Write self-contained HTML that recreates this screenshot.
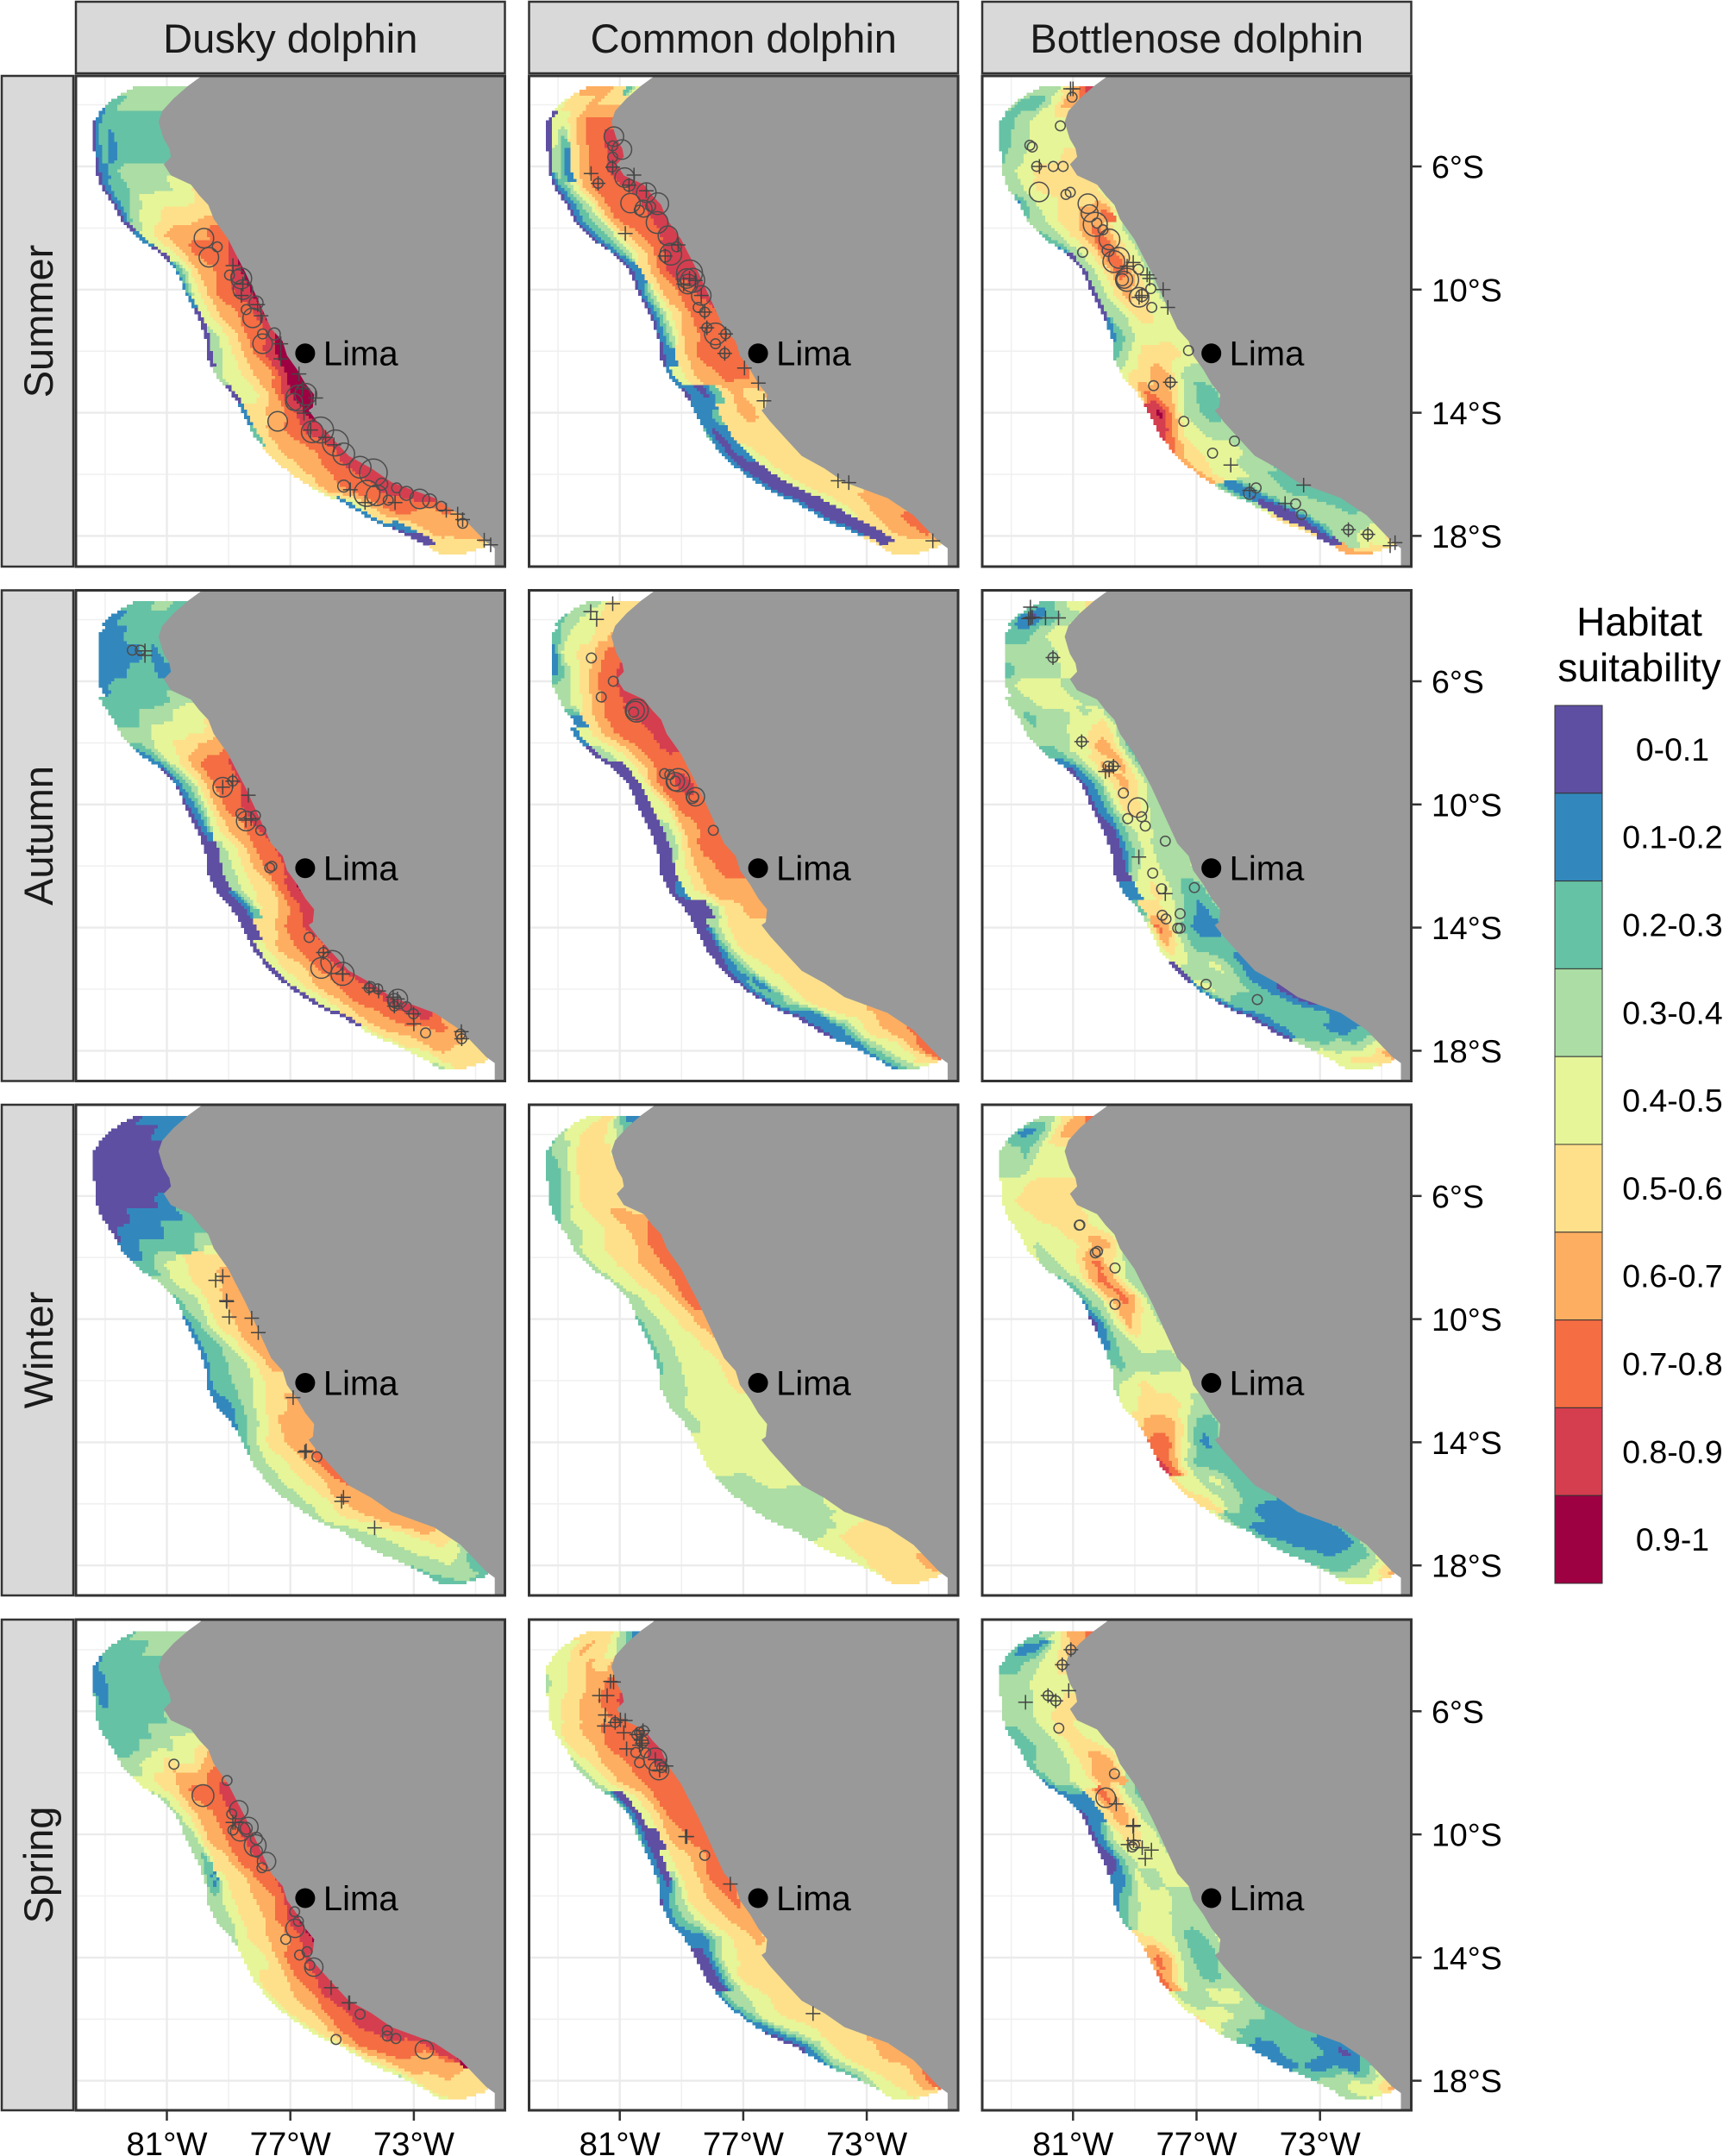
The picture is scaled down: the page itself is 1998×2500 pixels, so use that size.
<!DOCTYPE html>
<html lang="en">
<head>
<meta charset="utf-8">
<title>Dolphin habitat suitability by season</title>
<style>
html,body{margin:0;padding:0;background:#fff;}
svg{display:block;font-family:"Liberation Sans",Arial,sans-serif;}
</style>
</head>
<body>
<svg id="chart" xmlns="http://www.w3.org/2000/svg" width="1998" height="2500" viewBox="0 0 1998 2500"></svg>
<script>
const species = ['Dusky dolphin','Common dolphin','Bottlenose dolphin'];
const seasons = ['Summer','Autumn','Winter','Spring'];
const latTicks = [6,10,14,18];
const latMinor = [4,8,12,16];
const lonTicks = [81,77,73];
const lonMinor = [83,79,75,71];
const legendLabels = ['0-0.1','0.1-0.2','0.2-0.3','0.3-0.4','0.4-0.5','0.5-0.6','0.6-0.7','0.7-0.8','0.8-0.9','0.9-1'];
const limaLon = -76.52;
const limaLat = 12.07;

/* coastline of Peru, degrees */
const coastLon = [-79.90,-80.31,-80.78,-81.15,-81.27,-81.15,-81.10,-80.92,-80.87,-81.10,-80.87,-80.22,-79.94,-79.66,-79.48,-79.01,-78.78,-78.46,-78.13,-77.90,-77.62,-77.25,-77.11,-76.78,-76.51,-76.23,-76.27,-76.41,-76.13,-75.58,-75.11,-74.37,-73.72,-72.88,-72.33,-71.49,-70.66,-70.38,-70.38];
const coastLat = [3.08,3.38,3.79,4.20,4.55,4.96,5.11,5.42,5.69,5.93,6.29,6.59,6.95,7.25,7.71,8.37,8.83,9.44,10.15,10.66,11.27,11.68,12.14,12.60,13.06,13.41,13.82,13.92,14.28,14.89,15.40,15.81,16.26,16.57,16.77,17.33,18.20,18.40,18.96];

/* cross-shore transects, north to south: coast end and offshore end */
const stationCoastLon = [-80.5,-80.7,-81.2,-81.1,-80.9,-81.0,-80.4,-79.9,-79.55,-79.2,-78.85,-78.5,-78.15,-77.8,-77.4,-77.0,-76.6,-76.15,-76.15,-75.8,-75.2,-74.5,-73.8,-73.1,-72.5,-71.95,-71.44,-71.07,-70.8,-70.61];
const stationCoastLat = [3.45,3.9,4.5,5.1,5.7,6.1,6.55,6.9,7.45,8.05,8.6,9.3,10.0,10.6,11.3,12.0,12.7,13.35,13.95,14.5,15.05,15.55,16.0,16.3,16.55,17.02,17.38,17.74,18.05,18.25];
const stationWestLon = [-82.1,-82.9,-83.35,-83.38,-83.33,-83.3,-83.05,-82.75,-82.4,-81.9,-81.2,-80.7,-80.35,-79.95,-79.75,-79.7,-79.4,-78.9,-78.5,-78.15,-77.6,-76.9,-76.0,-75.2,-74.4,-73.5,-72.8,-72.2,-71.49,-70.75];
const stationWestLat = [3.45,3.9,4.5,5.1,5.7,6.2,6.8,7.2,7.85,8.35,8.85,9.4,10.2,10.95,11.6,12.2,12.85,13.4,14.05,14.8,15.45,16.05,16.6,16.95,17.45,17.85,18.2,18.55,18.6,18.36];

/* suitability class per transect, coast (left digit) to offshore (right digit); x = no data */
const duskySummer = ['333333333','333333322','222222220','222222120','222222120','333333210','443333220','544444320','555554430','776666541','877776540','987766531','988776541','987766540','987765430','998765430','998665443','999865440','998766551','888776652','887766655','888776655','888777664','888877641','888777651','776666510','666666500','666655555','665555555','555555555'];
const commonSummer = ['425566666','555565554','777765440','887765240','887765130','887765130','887776420','887776420','887776320','887765320','888765420','888876510','887766420','877765420','777766420','777776510','677766541','655652010','556655211','555555102','555554101','555554001','555554001','655554001','666554001','666655001','776665005','776655555','665555555','555555555'];
const bottleSummer = ['876553333','666432223','444443322','444443322','554444332','555554433','555555433','455554431','476655433','346765432','345775430','345775430','345565430','344554330','444444321','445555432','333466554','322346675','222335798','333344578','334444556','233344456','222333113','122233103','222333005','223333105','333333300','444443366','544455566','555555555'];
const duskyAutumn = ['223332222','222222211','22222111x','21211111x','11222111x','22222221x','332222222','444333222','544444333','666554421','877765420','877765320','887765310','887665410','877654300','877654300','987554300','887655200','887765500','877766540','887765540','887766540','887776540','888776650','888776654','677666554','666666544','555555543','555555555','555555555'];
const commonAutumn = ['555554333','555544332','65544432x','77655441x','87765431x','87765433x','88776543x','88877651x','887776541','887765430','777765400','788776400','777764400','777664300','777765300','777665400','666665410','666553000','555554300','555554200','555544210','555544120','555554320','655554110','665543110','666554311','766544321','776544321','776555433','776555555'];
const bottleAutumn = ['544433222','433221012','44433222x','44333333x','44333332x','33444443x','334444333','343433323','355443333','246644322','246564310','345654210','334554210','333443200','333343200','433344300','322345411','321234552','111123674','222223454','112343330','111233341','001222220','001222210','112222210','111122233','222233344','444445544','665555444','665555555'];
const duskyWinter = ['111111100','111000000','000000000','000000000','000000000','110000000','211111000','222211110','332222211','555544322','665554433','666554332','666554321','666543221','665433221','555433221','665543211','666654321','666655432','776554433','776554433','666654433','666655443','666654433','666544333','555444333','344443332','223333322','222333322','222222222'];
const commonWinter = ['112355444','234555443','455554332','555554322','555554322','555554322','566554432','766554433','776555443','776655443','776655443','776554433','665544332','655444332','554444332','554444333','444444433','444444433','444444444','444444444','444443333','333333333','443333333','544433333','555555444','555555544','555555554','665555555','665555555','555555555'];
const bottleWinter = ['766554333','666532112','444432333','444443333','555555444','555555544','455555444','445554444','466544434','345764433','334676432','346765331','344564310','444443321','433333323','444445443','334555544','322356665','321245777','222223578','122343445','122233455','211112223','111111112','211111122','211111222','322222223','433333344','555544444','666555555'];
const duskySpring = ['333333332','333322222','222222221','222222211','222222212','322222222','333322222','444333222','654454433','776665544','887776543','887766543','887766533','887765523','877655413','876655433','987655433','987665543','887765444','887765554','888766554','888776554','888877654','888877764','887777654','886666653','966665554','555555554','555555555','555555555'];
const commonSpring = ['123455555','234556544','655655444','776655443','877665544','776665544','777766554','877776554','887766543','777766543','777765402','777765402','777665002','776655401','777655302','676655320','666554321','565543111','555544200','555554200','555544331','555554421','555544310','555554310','565555431','666555432','665555443','766555444','776655554','775555555'];
const bottleSpring = ['766654332','665431112','554433222','444443333','554443333','555443333','445543322','445543322','466543332','366644331','234675111','335665110','344554310','344443200','444334211','333444321','333344432','432234455','322234676','332233467','334443334','223334445','222222233','222222111','111222211','101111122','221133333','433344433','555544443','666555555'];

/* sightings: [lon, lat, group size] */
const duskySummerSightings = [[-79.80,8.33,8],[-79.64,8.95,8],[-79.37,8.61,2],[-78.97,9.53,2],[-78.59,9.64,9],[-78.70,9.58,4],[-78.54,10.0,8],[-78.43,10.65,2],[-78.11,10.43,4],[-78.22,10.92,8],[-77.9,11.44,2],[-77.9,11.76,8],[-77.52,11.44,3],[-76.72,13.52,14],[-76.5,13.40,10],[-76.88,13.65,6],[-77.41,14.28,8],[-76.29,14.62,10],[-76.02,14.56,14],[-75.54,14.98,14],[-75.27,15.34,10],[-74.74,15.77,10],[-74.31,15.95,16],[-74.52,16.62,14],[-74.2,16.68,9],[-75.27,16.38,3],[-73.83,16.84,2],[-73.24,16.62,4],[-72.81,16.8,8],[-72.49,16.86,4],[-72.11,17.04,2],[-71.42,17.59,2],[-73.56,16.44,2],[-74.04,16.32,3]];
const commonSummerSightings = [[-81.19,5.03,8],[-80.93,5.45,8],[-81.23,5.33,2],[-81.23,5.70,2],[-81.26,6.02,2],[-80.84,6.36,8],[-81.7,6.55,2],[-80.7,6.61,3],[-80.14,6.85,8],[-80.65,7.19,8],[-79.77,7.21,10],[-80.23,7.37,6],[-80.37,7.42,2],[-80.0,7.3,2],[-79.79,7.82,10],[-79.44,8.25,8],[-79.35,8.85,10],[-79.53,8.91,3],[-79.16,8.61,2],[-78.74,9.46,14],[-78.64,9.70,12],[-78.83,9.64,8],[-78.79,9.82,8],[-78.36,10.19,8],[-78.46,10.58,2],[-78.25,10.73,2],[-78.18,11.24,2],[-77.9,11.44,10],[-77.57,11.44,2],[-77.9,11.76,2],[-77.6,12.07,2]];
const bottleSummerSightings = [[-81.03,3.75,2],[-81.41,4.68,2],[-82.40,5.31,2],[-82.32,5.37,2],[-82.18,6.0,2],[-81.64,6.0,2],[-81.32,6.0,2],[-82.1,6.83,8],[-81.23,6.91,2],[-81.09,6.84,2],[-80.52,7.21,8],[-80.46,7.52,6],[-80.28,7.88,12],[-80.23,7.84,2],[-79.82,8.37,9],[-80.03,8.06,2],[-80.69,8.79,2],[-79.86,8.73,3],[-79.51,8.97,9],[-79.68,9.09,10],[-78.88,9.34,2],[-79.25,9.68,11],[-79.34,9.68,6],[-79.4,9.68,3],[-78.86,10.25,8],[-78.77,10.19,3],[-78.48,9.97,2],[-78.45,10.58,2],[-77.26,11.98,2],[-78.39,13.12,2],[-77.85,13.01,2],[-77.41,14.28,2],[-75.77,14.92,2],[-76.48,15.31,2],[-75.07,16.44,2],[-75.28,16.62,3],[-73.79,16.96,2],[-73.6,17.31,2],[-72.08,17.8,2],[-71.45,17.95,2]];
const duskyAutumnSightings = [[-82.12,4.99,2],[-81.86,4.99,2],[-79.19,9.44,8],[-78.87,9.24,2],[-78.6,10.3,2],[-78.43,10.54,8],[-78.13,10.36,2],[-77.96,10.84,2],[-77.67,12.06,2],[-77.6,12.01,2],[-76.39,14.32,2],[-75.93,14.81,2],[-75.64,15.12,11],[-76.0,15.31,9],[-75.31,15.5,11],[-74.45,15.96,2],[-74.4,15.92,2],[-74.17,15.99,2],[-73.52,16.32,8],[-73.63,16.37,4],[-73.63,16.55,2],[-73.24,16.57,2],[-73.01,16.8,2],[-72.62,17.42,2],[-71.49,17.46,2],[-71.45,17.61,2]];
const commonAutumnSightings = [[-81.92,5.24,2],[-81.21,6.0,2],[-81.6,6.51,2],[-80.45,6.95,11],[-80.5,6.95,7],[-80.55,7.0,2],[-79.55,9.0,2],[-79.38,9.03,2],[-79.11,9.21,11],[-79.2,9.26,7],[-79.2,9.24,2],[-78.55,9.75,7],[-78.64,9.77,3],[-78.6,9.75,2],[-77.97,10.84,2]];
const bottleAutumnSightings = [[-81.65,5.23,2],[-80.72,7.96,2],[-79.87,8.76,2],[-79.69,8.76,2],[-79.37,9.63,2],[-78.9,10.1,8],[-79.23,10.46,2],[-78.78,10.4,2],[-78.66,10.7,2],[-78.01,11.19,2],[-78.42,12.23,2],[-78.13,12.74,2],[-77.53,13.55,2],[-78.11,13.6,2],[-77.99,13.72,2],[-77.61,14.02,2],[-77.53,14.02,2],[-77.07,12.7,2],[-76.69,15.84,2],[-75.03,16.34,2]];
const duskyWinterSightings = [[-76.14,14.47,2]];
const commonWinterSightings = [];
const bottleWinterSightings = [[-80.8,6.95,2],[-80.78,6.94,2],[-80.28,7.85,2],[-80.21,7.8,2],[-79.64,8.34,2],[-79.64,9.52,2]];
const duskySpringSightings = [[-80.77,7.72,2],[-79.05,8.25,2],[-79.83,8.74,10],[-78.67,9.2,7],[-78.9,9.34,2],[-78.86,9.86,2],[-78.36,9.76,8],[-78.43,9.8,3],[-78.62,9.9,8],[-78.1,10.13,3],[-78.14,10.36,10],[-78.1,10.54,3],[-77.77,10.88,7],[-77.92,11.08,2],[-76.86,12.51,2],[-76.74,12.82,2],[-76.85,13.05,7],[-77.15,13.41,2],[-76.46,13.81,2],[-76.7,13.92,2],[-76.24,14.31,7],[-76.37,14.25,2],[-74.74,15.84,2],[-75.52,16.66,2],[-73.86,16.36,2],[-73.86,16.55,2],[-73.58,16.63,2],[-72.66,16.99,7]];
const commonSpringSightings = [[-81.15,6.36,2],[-80.45,6.76,2],[-80.36,6.68,2],[-80.22,6.63,2],[-80.27,6.99,3],[-80.48,7.34,2],[-80.36,7.67,2],[-80.16,7.35,2],[-79.85,7.57,11],[-79.73,7.91,8],[-79.64,7.83,2],[-78.25,10.68,2]];
const bottleSpringSightings = [[-81.07,4.0,2],[-81.35,4.49,2],[-81.81,5.49,2],[-81.56,5.66,2],[-81.46,6.55,2],[-79.66,8.03,2],[-79.94,8.81,8],[-79.08,10.41,2],[-79.01,10.34,2]];

/* absences / transect points: [lon, lat] */
const duskySummerCrosses = [[-78.86,9.22],[-78.54,9.82],[-78.59,10.19],[-78.06,10.49],[-77.95,10.85],[-77.31,11.76],[-77.31,12.25],[-76.72,12.74],[-76.61,13.22],[-76.56,14.01],[-76.18,13.52],[-76.34,14.56],[-75.86,14.80],[-75.59,15.04],[-75.06,16.5],[-74.58,16.92],[-73.61,16.92],[-71.95,17.17],[-71.58,17.29],[-71.42,17.47],[-70.72,18.14],[-70.51,18.29]];
const commonSummerCrosses = [[-81.93,6.23],[-80.54,6.28],[-81.7,6.55],[-80.82,8.18],[-81.23,6.02],[-80.14,6.79],[-79.11,8.55],[-76.96,12.55],[-76.51,13.04],[-76.33,13.61],[-73.93,16.21],[-73.58,16.27],[-70.86,18.16],[-80.7,6.61],[-78.74,9.64],[-78.93,9.82],[-78.55,9.7],[-77.57,11.44],[-77.6,12.07],[-78.18,11.24],[-78.25,10.73],[-78.36,10.19],[-79.53,8.91]];
const bottleSummerCrosses = [[-81.08,3.48],[-81.0,3.48],[-82.09,6.0],[-79.05,9.12],[-79.25,9.24],[-78.6,9.52],[-78.52,9.64],[-78.08,10.0],[-77.93,10.58],[-78.77,10.19],[-77.85,13.01],[-75.89,15.7],[-75.28,16.52],[-73.53,16.35],[-74.13,16.95],[-72.08,17.8],[-71.45,17.95],[-70.57,18.22],[-70.73,18.32],[-78.86,10.25]];
const duskyAutumnCrosses = [[-81.71,5.01],[-81.71,5.16],[-79.19,9.44],[-78.87,9.24],[-78.36,9.7],[-78.44,10.51],[-78.27,10.46],[-75.93,14.81],[-75.31,15.5],[-75.3,15.51],[-74.45,15.96],[-74.14,16.06],[-73.67,16.26],[-73.53,16.32],[-73.63,16.55],[-73.01,16.8],[-73.0,17.13],[-71.46,17.38],[-71.45,17.61]];
const commonAutumnCrosses = [[-81.23,3.48],[-81.94,3.74],[-81.75,3.99]];
const bottleAutumnCrosses = [[-82.38,3.59],[-82.38,3.94],[-82.44,3.96],[-82.32,3.92],[-81.89,3.94],[-81.47,3.94],[-81.65,5.23],[-80.72,7.96],[-79.69,8.76],[-79.95,8.93],[-79.83,8.88],[-78.87,11.71],[-78.01,12.9]];
const duskyWinterCrosses = [[-79.42,8.74],[-79.19,8.61],[-79.07,9.4],[-79.06,9.43],[-78.98,9.93],[-78.25,9.97],[-78.04,10.44],[-76.91,12.55],[-76.49,14.28],[-76.53,14.32],[-75.28,15.79],[-75.34,15.92],[-74.27,16.78]];
const commonWinterCrosses = [];
const bottleWinterCrosses = [];
const duskySpringCrosses = [[-78.86,9.61],[-78.79,9.61],[-75.68,14.98],[-75.11,15.47],[-75.08,15.47]];
const commonSpringCrosses = [[-81.3,5.03],[-81.2,5.05],[-81.66,5.49],[-81.41,5.49],[-81.47,6.12],[-81.5,6.48],[-80.82,6.3],[-80.98,6.28],[-81.15,6.36],[-80.87,6.7],[-80.78,7.22],[-80.45,6.76],[-80.25,6.63],[-80.31,6.94],[-80.27,7.04],[-80.36,7.1],[-79.85,7.57],[-79.71,7.91],[-79.5,7.78],[-78.83,10.07],[-78.87,10.07],[-77.42,11.61],[-74.74,15.82]];
const bottleSpringCrosses = [[-81.07,4.0],[-81.35,4.49],[-81.81,5.49],[-81.56,5.66],[-81.14,5.33],[-82.54,5.71],[-79.6,9.01],[-79.06,9.74],[-79.04,9.71],[-79.04,10.2],[-79.22,10.33],[-78.76,10.43],[-78.46,10.51],[-78.66,10.79]];

const palette = ['#5E4FA2','#3288BD','#66C2A5','#ABDDA4','#E6F598','#FEE08B','#FDAE61','#F46D43','#D53E4F','#9E0142'];
const classGrids = [
  [duskySummer,commonSummer,bottleSummer],
  [duskyAutumn,commonAutumn,bottleAutumn],
  [duskyWinter,commonWinter,bottleWinter],
  [duskySpring,commonSpring,bottleSpring]
];
const sightingSets = [
  [duskySummerSightings,commonSummerSightings,bottleSummerSightings],
  [duskyAutumnSightings,commonAutumnSightings,bottleAutumnSightings],
  [duskyWinterSightings,commonWinterSightings,bottleWinterSightings],
  [duskySpringSightings,commonSpringSightings,bottleSpringSightings]
];
const crossSets = [
  [duskySummerCrosses,commonSummerCrosses,bottleSummerCrosses],
  [duskyAutumnCrosses,commonAutumnCrosses,bottleAutumnCrosses],
  [duskyWinterCrosses,commonWinterCrosses,bottleWinterCrosses],
  [duskySpringCrosses,commonSpringCrosses,bottleSpringCrosses]
];

/* layout */
const NS = 'http://www.w3.org/2000/svg';
const root = document.getElementById('chart');
const colLeft = [88,613.5,1139];
const colWidth = 497.5;
const rowTop = [88,684.5,1281,1878];
const rowHeight = 569;
const lon81 = [193.5,718.7,1244.3];
const lat6 = [193,790,1386.8,1984.3];
const pxPerLon = 35.8;
const pxPerLat = 35.7;
function xScale(col, lon){ return lon81[col] + (lon + 81) * pxPerLon; }
function yScale(row, lat){ return lat6[row] + (lat - 6) * pxPerLat; }
function sizeScale(v){ return 4.0 * Math.sqrt(v); }

function make(parent, tag, attrs, text){
  const el = document.createElementNS(NS, tag);
  for (const k in attrs) el.setAttribute(k, attrs[k]);
  if (text !== undefined) el.textContent = text;
  parent.appendChild(el);
  return el;
}

/* map every 0.1 degree cell to transect coordinates */
const CELL = 0.1;
const cellMap = [];
(function(){
  const n = stationCoastLon.length;
  function side(i, px, py){
    const dx = stationWestLon[i]-stationCoastLon[i], dy = stationWestLat[i]-stationCoastLat[i];
    const len = Math.hypot(dx,dy) || 1;
    return (dx*(py-stationCoastLat[i]) - dy*(px-stationCoastLon[i]))/len;
  }
  for (let r = 0; r < 156; r++){
    const lat = 3.35 + r*CELL;
    const row = [];
    for (let c = 0; c < 135; c++){
      const lon = -83.65 + c*CELL;
      let found = null;
      for (let i = 0; i < n-1; i++){
        const d1 = side(i,lon,lat), d2 = side(i+1,lon,lat);
        if (d1 <= 0 && d2 > 0){
          const f = Math.abs(d1)/(Math.abs(d1)+Math.abs(d2));
          const cx = stationCoastLon[i]+(stationCoastLon[i+1]-stationCoastLon[i])*f;
          const cy = stationCoastLat[i]+(stationCoastLat[i+1]-stationCoastLat[i])*f;
          const wx = stationWestLon[i]+(stationWestLon[i+1]-stationWestLon[i])*f;
          const wy = stationWestLat[i]+(stationWestLat[i+1]-stationWestLat[i])*f;
          const vx = wx-cx, vy = wy-cy;
          const t = ((lon-cx)*vx+(lat-cy)*vy)/(vx*vx+vy*vy);
          if (t <= 1 && t >= -0.7){ found = [i,f,Math.max(0,t)]; break; }
        }
      }
      row.push(found);
    }
    cellMap.push(row);
  }
})();

function digit(grid, s, t){
  const ch = (grid[s] || '')[t];
  if (ch === undefined || ch === 'x') return null;
  return +ch;
}
function blend(a, b, f){
  if (a === null && b === null) return null;
  if (a === null) return f > 0.5 ? b : null;
  if (b === null) return f < 0.5 ? a : null;
  if (Math.abs(a-b) >= 3) return f < 0.5 ? a : b;
  return a + (b-a)*f;
}
function classOf(grid, cell){
  const i = cell[0], f = cell[1];
  const T = cell[2]*8;
  const j = Math.min(7, Math.floor(T));
  const g = T - j;
  const v0 = blend(digit(grid,i,j), digit(grid,i+1,j), f);
  const v1 = blend(digit(grid,i,j+1), digit(grid,i+1,j+1), f);
  const v = blend(v0, v1, g);
  if (v === null) return -1;
  return Math.max(0, Math.min(9, Math.round(v)));
}

/* column strips */
species.forEach(function(name, c){
  const box = make(root,'rect',{x:colLeft[c],y:2,width:colWidth,height:83,fill:'#D9D9D9',stroke:'#333333','stroke-width':2.5});
  
  
  const label = make(root,'text',{x:colLeft[c]+colWidth/2,y:61,'text-anchor':'middle','font-size':47,fill:'#1A1A1A'},name);
  
  
});

/* row strips */
seasons.forEach(function(name, r){
  const box = make(root,'rect',{x:2,y:rowTop[r],width:83,height:rowHeight,fill:'#D9D9D9',stroke:'#333333','stroke-width':2.5});
  
  
  const cy = rowTop[r]+rowHeight/2;
  const label = make(root,'text',{x:61,y:cy,'text-anchor':'middle','font-size':47,fill:'#1A1A1A',transform:'rotate(-90 61 '+cy+')'},name);
  
  
});

/* panels */
const defs = make(root,'defs',{});
seasons.forEach(function(season, r){
  species.forEach(function(sp, c){
    const clip = make(defs,'clipPath',{id:'clip-'+r+'-'+c});
    make(clip,'rect',{x:colLeft[c],y:rowTop[r],width:colWidth,height:rowHeight});

    const g = make(root,'g',{'clip-path':'url(#clip-'+r+'-'+c+')'});
    
    

    const bg = make(g,'rect',{x:colLeft[c],y:rowTop[r],width:colWidth,height:rowHeight,fill:'#FFFFFF'});
    
    

    latMinor.forEach(function(v){
      const l = make(g,'line',{x1:colLeft[c],x2:colLeft[c]+colWidth,y1:yScale(r,v),y2:yScale(r,v),stroke:'#F0F0F0','stroke-width':1.6});
      
      
    });
    lonMinor.forEach(function(v){
      const l = make(g,'line',{y1:rowTop[r],y2:rowTop[r]+rowHeight,x1:xScale(c,-v),x2:xScale(c,-v),stroke:'#F0F0F0','stroke-width':1.6});
      
      
    });
    latTicks.forEach(function(v){
      const l = make(g,'line',{x1:colLeft[c],x2:colLeft[c]+colWidth,y1:yScale(r,v),y2:yScale(r,v),stroke:'#EBEBEB','stroke-width':2.4});
      
      
    });
    lonTicks.forEach(function(v){
      const l = make(g,'line',{y1:rowTop[r],y2:rowTop[r]+rowHeight,x1:xScale(c,-v),x2:xScale(c,-v),stroke:'#EBEBEB','stroke-width':2.4});
      
      
    });

    /* raster, merged into horizontal runs */
    const raster = make(g,'g',{'shape-rendering':'crispEdges'});
    
    
    const grid = classGrids[r][c];
    cellMap.forEach(function(rowCells, ri){
      const lat = 3.35 + ri*CELL;
      let runStart = -1, runClass = -1;
      for (let ci = 0; ci <= rowCells.length; ci++){
        const cell = rowCells[ci];
        const k = cell ? classOf(grid, cell) : -1;
        if (k !== runClass){
          if (runClass >= 0){
            const lonA = -83.65 + runStart*CELL - CELL/2;
            const lonB = -83.65 + (ci-1)*CELL + CELL/2;
            const rect = make(raster,'rect',{
              x:xScale(c,lonA).toFixed(2),
              y:yScale(r,lat-CELL/2).toFixed(2),
              width:(xScale(c,lonB)-xScale(c,lonA)+0.3).toFixed(2),
              height:(pxPerLat*CELL+0.3).toFixed(2),
              fill:palette[runClass]
            });
            
            
          }
          runStart = ci; runClass = k;
        }
      }
    });

    /* land */
    let pts = coastLon.map(function(lon,i){ return xScale(c,lon).toFixed(1)+','+yScale(r,coastLat[i]).toFixed(1); });
    pts.push(xScale(c,-69.5).toFixed(1)+','+yScale(r,19.5).toFixed(1));
    pts.push(xScale(c,-69.5).toFixed(1)+','+yScale(r,2.5).toFixed(1));
    pts.push(xScale(c,coastLon[0]).toFixed(1)+','+yScale(r,2.5).toFixed(1));
    const land = make(g,'polygon',{points:pts.join(' '),fill:'#999999'});
    
    

    /* marks */
    sightingSets[r][c].forEach(function(d){
      const circ = make(g,'circle',{cx:xScale(c,d[0]).toFixed(1),cy:yScale(r,d[1]).toFixed(1),r:sizeScale(d[2]).toFixed(1),fill:'none',stroke:'#4D4D4D','stroke-width':1.5});
      
      
    });
    crossSets[r][c].forEach(function(d){
      const X = xScale(c,d[0]), Y = yScale(r,d[1]);
      const cross = make(g,'path',{d:'M'+(X-8.5).toFixed(1)+' '+Y.toFixed(1)+'H'+(X+8.5).toFixed(1)+'M'+X.toFixed(1)+' '+(Y-8.5).toFixed(1)+'V'+(Y+8.5).toFixed(1),fill:'none',stroke:'#444444','stroke-width':1.5});
      
      
    });

    /* Lima */
    const LX = xScale(c,limaLon), LY = yScale(r,limaLat);
    const dot = make(g,'circle',{cx:LX,cy:LY,r:11.5,fill:'#000000'});
    
    
    const lt = make(g,'text',{x:LX+21,y:LY+14,'font-size':40,fill:'#000000'},'Lima');
    
    

    const border = make(root,'rect',{x:colLeft[c],y:rowTop[r],width:colWidth,height:rowHeight,fill:'none',stroke:'#333333','stroke-width':3});
    
    
  });

  /* right axis */
  latTicks.forEach(function(v){
    const Y = yScale(r,v);
    const right = colLeft[2]+colWidth;
    const tick = make(root,'line',{x1:right,x2:right+12,y1:Y,y2:Y,stroke:'#333333','stroke-width':2.5});
    
    
    const lab = make(root,'text',{x:1660,y:Y+13.5,'font-size':37.5,fill:'#000000'},v+'°S');
    
    
  });
});

/* bottom axis */
species.forEach(function(sp, c){
  lonTicks.forEach(function(v){
    const X = xScale(c,-v);
    const bottom = rowTop[3]+rowHeight;
    const tick = make(root,'line',{x1:X,x2:X,y1:bottom,y2:bottom+12,stroke:'#333333','stroke-width':2.5});
    
    
    const lab = make(root,'text',{x:X,y:2499,'text-anchor':'middle','font-size':38.3,fill:'#000000'},v+'°W');
    
    
  });
});

/* legend */
const lt1 = make(root,'text',{x:1901,y:737,'text-anchor':'middle','font-size':46,fill:'#000000'},'Habitat');


const lt2 = make(root,'text',{x:1901,y:790,'text-anchor':'middle','font-size':46,fill:'#000000'},'suitability');


const legTop = 818, legH = 101.8;
legendLabels.forEach(function(label, i){
  const cell = make(root,'rect',{x:1803,y:legTop+i*legH,width:55,height:legH,fill:palette[i],stroke:'#333333','stroke-width':1});
  
  
  const txt = make(root,'text',{x:1939.5,y:legTop+i*legH+legH/2+13,'text-anchor':'middle','font-size':37.4,fill:'#000000'},label);
  
  
});
</script>
</body>
</html>
